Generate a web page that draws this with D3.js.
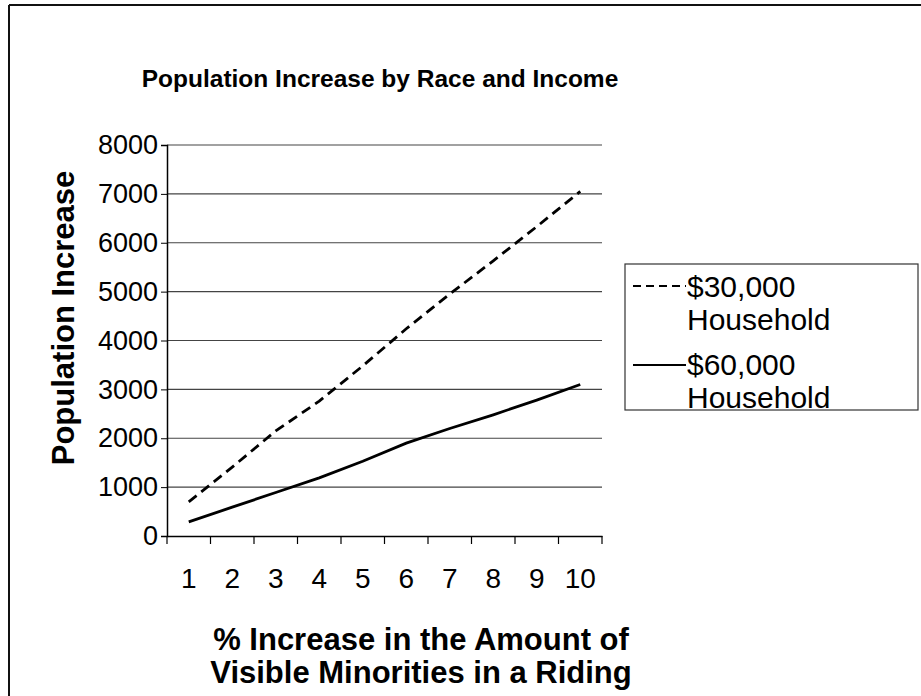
<!DOCTYPE html>
<html>
<head>
<meta charset="utf-8">
<script src="https://cdn.jsdelivr.net/npm/d3@7"></script>
<style>
  html, body { margin: 0; padding: 0; background: #fff; }
  svg { display: block; font-family: "Liberation Sans", Arial, Helvetica, sans-serif; }
</style>
</head>
<body>
<svg id="chart" width="921" height="696"></svg>
<script>
const categories = ["1", "2", "3", "4", "5", "6", "7", "8", "9", "10"];
const household30k = [700, 1410, 2150, 2760, 3480, 4240, 4950, 5630, 6330, 7050];
const household60k = [290, 590, 890, 1190, 1530, 1900, 2200, 2480, 2780, 3100];
const yTicks = [0, 1000, 2000, 3000, 4000, 5000, 6000, 7000, 8000];
const seriesNames = ["$30,000 Household", "$60,000 Household"];
const chartTitle = "Population Increase by Race and Income";
const yTitle = "Population Increase";
const xTitleLines = ["% Increase in the Amount of", "Visible Minorities in a Riding"];

const svg = d3.select("#chart");

// outer frame (left and top edges visible in the scan)
svg.append("line").attr("x1", 9).attr("x2", 9).attr("y1", 5).attr("y2", 696)
  .attr("stroke", "#111").attr("stroke-width", 2);
svg.append("line").attr("x1", 9).attr("x2", 921).attr("y1", 5).attr("y2", 5)
  .attr("stroke", "#111").attr("stroke-width", 2);

const plot = { left: 167, right: 602, top: 145, bottom: 536 };

const x = d3.scaleBand().domain(categories).range([plot.left, plot.right]).padding(0);
const y = d3.scaleLinear().domain([0, 8000]).range([plot.bottom, plot.top]);

// gridlines
svg.append("g").selectAll("line").data(yTicks.filter(d => d > 0)).join("line")
  .attr("x1", plot.left).attr("x2", plot.right)
  .attr("y1", d => y(d)).attr("y2", d => y(d))
  .attr("stroke", "#444").attr("stroke-width", 1.2);

// y axis
const yAxis = d3.axisLeft(y).tickValues(yTicks).tickSize(6).tickPadding(3).tickFormat(d3.format("d"));
const gy = svg.append("g").attr("transform", `translate(${plot.left},0)`).call(yAxis);
gy.select(".domain").attr("stroke", "#000").attr("stroke-width", 1.5);
gy.selectAll(".tick line").attr("stroke", "#000");
gy.selectAll(".tick text").attr("font-size", 27).attr("fill", "#000")
  .attr("font-family", "Liberation Sans, Arial, sans-serif");

// x axis (ticks at category boundaries)
const xAxis = d3.axisBottom(x).tickSize(0).tickPadding(0);
const gx = svg.append("g").attr("transform", `translate(0,${plot.bottom})`).call(xAxis);
gx.select(".domain").attr("stroke", "#000").attr("stroke-width", 1.5);
gx.selectAll(".tick text").attr("font-size", 28).attr("fill", "#000")
  .attr("y", 32).attr("dy", "0.71em")
  .attr("font-family", "Liberation Sans, Arial, sans-serif");
const boundaries = categories.map(c => x(c)).concat([x(categories[categories.length - 1]) + x.bandwidth()]);
gx.append("g").selectAll("line").data(boundaries).join("line")
  .attr("x1", d => d).attr("x2", d => d).attr("y1", 0).attr("y2", 8)
  .attr("stroke", "#000").attr("stroke-width", 1.2);

// lines
const line = d3.line()
  .x((d, i) => x(categories[i]) + x.bandwidth() / 2)
  .y(d => y(d));

svg.append("path").datum(household30k).attr("d", line)
  .attr("fill", "none").attr("stroke", "#000").attr("stroke-width", 2.8)
  .attr("stroke-dasharray", "10,6");
svg.append("path").datum(household60k).attr("d", line)
  .attr("fill", "none").attr("stroke", "#000").attr("stroke-width", 2.8);

// title
svg.append("text").attr("x", 380).attr("y", 87).attr("text-anchor", "middle")
  .attr("font-size", 24.5).attr("font-weight", "bold").text(chartTitle);

// y title
svg.append("text").attr("transform", "translate(74,318) rotate(-90)")
  .attr("text-anchor", "middle").attr("font-size", 31).attr("font-weight", "bold").text(yTitle);

// x title
svg.append("text").attr("x", 421).attr("y", 650).attr("text-anchor", "middle")
  .attr("font-size", 31).attr("font-weight", "bold").text(xTitleLines[0]);
svg.append("text").attr("x", 421).attr("y", 683).attr("text-anchor", "middle")
  .attr("font-size", 31).attr("font-weight", "bold").text(xTitleLines[1]);

// legend
const lg = svg.append("g");
lg.append("rect").attr("x", 625).attr("y", 264).attr("width", 293).attr("height", 146)
  .attr("fill", "#fff").attr("stroke", "#333").attr("stroke-width", 1.2);
const entries = [
  { dash: "8,5", lines: ["$30,000", "Household"], ly: 286, ty: 297 },
  { dash: null, lines: ["$60,000", "Household"], ly: 365, ty: 375 }
];
entries.forEach((e, i) => {
  const l = lg.append("line").attr("x1", 633).attr("x2", 686).attr("y1", e.ly).attr("y2", e.ly)
    .attr("stroke", "#000").attr("stroke-width", 2);
  if (e.dash) l.attr("stroke-dasharray", e.dash);
  lg.append("text").attr("x", 687).attr("y", e.ty).attr("font-size", 30).text(e.lines[0]);
  lg.append("text").attr("x", 687).attr("y", e.ty + 33).attr("font-size", 30).text(e.lines[1]);
});
</script>
</body>
</html>
